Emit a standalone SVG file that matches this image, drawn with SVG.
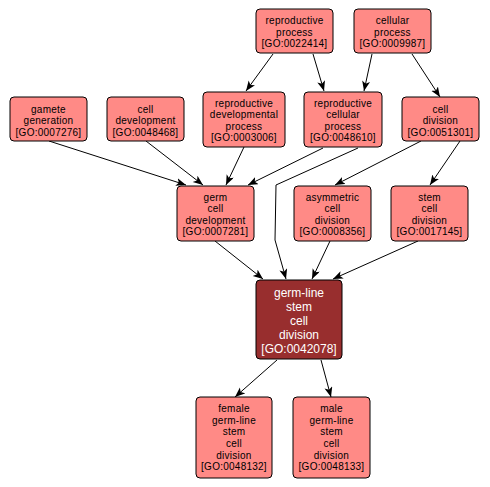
<svg xmlns="http://www.w3.org/2000/svg" width="490" height="487" viewBox="0 0 490 487">
<style>
.n rect{fill:#ff8a86;stroke:#000;stroke-width:1}
.n text{font-family:"Liberation Sans",Arial,sans-serif;font-size:10px;letter-spacing:0.25px;text-anchor:middle;fill:#000}
.d rect{fill:#982e2e;stroke:#000;stroke-width:1}
.d text{font-family:"Liberation Sans",Arial,sans-serif;font-size:12px;text-anchor:middle;fill:#fff}
.e path{fill:none;stroke:#000;stroke-width:1;marker-end:url(#a)}
</style>
<defs>
<marker id="a" markerUnits="userSpaceOnUse" markerWidth="12" markerHeight="10" refX="10" refY="4" orient="auto">
<path d="M0,0 L10,4 L0,8 L2.5,4 Z" fill="#000"/>
</marker>
</defs>
<rect width="490" height="487" fill="#fff"/>
<g class="e" id="edges">
<path d="M273,54 L246,91"/>
<path d="M313,54 L324,91"/>
<path d="M372,54 L364,91"/>
<path d="M412,54 L440,97"/>
<path d="M49,141 L186,185"/>
<path d="M146,141 L203,185"/>
<path d="M244,147 L226,185"/>
<path d="M323,148 L248,185"/>
<path d="M358,148 L276,185 L275,240 L286,279"/>
<path d="M421,141 L335,185"/>
<path d="M460,141 L430,185"/>
<path d="M215,241 L263,279"/>
<path d="M330,241 L312,279"/>
<path d="M418,241 L333,279"/>
<path d="M277,360 L235,397"/>
<path d="M321,360 L331,397"/>
</g>
<g class="n" id="GO0022414"><rect x="256" y="9" width="77" height="44" rx="4"/><text x="294.5" y="24">reproductive</text><text x="294.5" y="35.5">process</text><text x="294.5" y="47">[GO:0022414]</text></g>
<g class="n" id="GO0009987"><rect x="354" y="9" width="77" height="44" rx="4"/><text x="392.5" y="24">cellular</text><text x="392.5" y="35.5">process</text><text x="392.5" y="47">[GO:0009987]</text></g>
<g class="n" id="GO0007276"><rect x="10" y="97" width="77" height="44" rx="4"/><text x="48.5" y="112.5">gamete</text><text x="48.5" y="124">generation</text><text x="48.5" y="135.5">[GO:0007276]</text></g>
<g class="n" id="GO0048468"><rect x="107" y="97" width="77" height="44" rx="4"/><text x="145.5" y="112.5">cell</text><text x="145.5" y="124">development</text><text x="145.5" y="135.5">[GO:0048468]</text></g>
<g class="n" id="GO0003006"><rect x="203" y="92" width="82" height="55" rx="4"/><text x="244" y="106.5">reproductive</text><text x="244" y="118">developmental</text><text x="244" y="129.5">process</text><text x="244" y="140.5">[GO:0003006]</text></g>
<g class="n" id="GO0048610"><rect x="304" y="92" width="78" height="55" rx="4"/><text x="343" y="106.5">reproductive</text><text x="343" y="118">cellular</text><text x="343" y="129.5">process</text><text x="343" y="140.5">[GO:0048610]</text></g>
<g class="n" id="GO0051301"><rect x="402" y="97" width="77" height="44" rx="4"/><text x="440.5" y="112.5">cell</text><text x="440.5" y="124">division</text><text x="440.5" y="135.5">[GO:0051301]</text></g>
<g class="n" id="GO0007281"><rect x="177" y="186" width="77" height="55" rx="4"/><text x="215.5" y="200.5">germ</text><text x="215.5" y="212">cell</text><text x="215.5" y="223.5">development</text><text x="215.5" y="235">[GO:0007281]</text></g>
<g class="n" id="GO0008356"><rect x="294" y="186" width="77" height="55" rx="4"/><text x="332.5" y="200.5">asymmetric</text><text x="332.5" y="212">cell</text><text x="332.5" y="223.5">division</text><text x="332.5" y="235">[GO:0008356]</text></g>
<g class="n" id="GO0017145"><rect x="391" y="186" width="77" height="55" rx="4"/><text x="429.5" y="200.5">stem</text><text x="429.5" y="212">cell</text><text x="429.5" y="223.5">division</text><text x="429.5" y="235">[GO:0017145]</text></g>
<g class="d" id="GO0042078"><rect x="256" y="280" width="86" height="79" rx="4"/><text x="299" y="296.5">germ-line</text><text x="299" y="310.5">stem</text><text x="299" y="324.5">cell</text><text x="299" y="338.5">division</text><text x="299" y="352.5">[GO:0042078]</text></g>
<g class="n" id="GO0048132"><rect x="196" y="397" width="76" height="81" rx="4"/><text x="234" y="412">female</text><text x="234" y="423.7">germ-line</text><text x="234" y="435.3">stem</text><text x="234" y="447">cell</text><text x="234" y="458.6">division</text><text x="234" y="470.3">[GO:0048132]</text></g>
<g class="n" id="GO0048133"><rect x="293" y="397" width="77" height="81" rx="4"/><text x="331.5" y="412">male</text><text x="331.5" y="423.7">germ-line</text><text x="331.5" y="435.3">stem</text><text x="331.5" y="447">cell</text><text x="331.5" y="458.6">division</text><text x="331.5" y="470.3">[GO:0048133]</text></g>
</svg>
